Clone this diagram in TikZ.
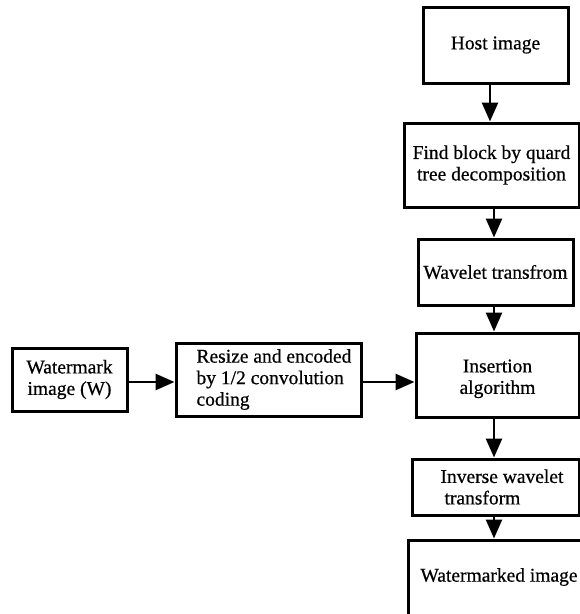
\documentclass[tikz,border=0pt]{standalone}
\usepackage{fontspec}
\setmainfont{Liberation Serif}[FakeBold=0.6]
\usetikzlibrary{arrows.meta}
\tikzset{
  lbl/.style={font=\fontsize{19.5}{21.5}\selectfont},
  box/.style={draw, line width=3pt, inner sep=0pt, align=center, lbl},
  arr/.style={line width=2.6pt, -{Triangle[length=19pt,width=16pt]}},
}
\begin{document}
\begin{tikzpicture}[x=1pt,y=-1pt]
\useasboundingbox (0,0) rectangle (580,614);
\clip (0,0) rectangle (580,614);
\node[box, minimum width=145pt, minimum height=76pt] (host) at (495.5,45) {Host image};
\node[box, minimum width=175pt, minimum height=84pt] (find) at (491.5,165) {Find block by quard\\tree decomposition};
\node[box, minimum width=155pt, minimum height=66pt] (wave) at (495.5,272) {Wavelet transfrom};
\node[box, minimum width=163pt, minimum height=84pt] (ins) at (497.5,375) {\\[-1pt]Insertion\\algorithm};
\node[box, minimum width=167pt, minimum height=56pt] (inv) at (495.5,487) {};
\node[lbl, align=left, anchor=west] (invt) at (437,487) {Inverse wavelet\\\hspace*{4pt}transform};
\node[box, minimum width=177pt, minimum height=80pt] (wm) at (496.5,580) {};
\node[lbl] (wmt) at (499,577) {Watermarked image};
\node[box, minimum width=115pt, minimum height=63pt] (water) at (69.5,379.5) {Watermark\\image (W)};
\node[box, minimum width=185pt, minimum height=73pt] (resize) at (268.5,379.5) {};
\node[lbl, align=left, anchor=west] (rt) at (193,379.5) {Resize and encoded\\by 1/2 convolution\\coding};
\coordinate (X1) at (490,0);
\coordinate (X) at (494,0);
\coordinate (Y) at (0,382);
\draw[arr] (host.south -| X1) -- (find.north -| X1);
\draw[arr] (find.south -| X) -- (wave.north -| X);
\draw[arr] (wave.south -| X) -- (ins.north -| X);
\draw[arr] (ins.south -| X) -- (inv.north -| X);
\draw[arr] (inv.south -| X) -- (wm.north -| X);
\draw[arr] (water.east |- Y) -- (resize.west |- Y);
\draw[arr] (resize.east |- Y) -- (ins.west |- Y);
\end{tikzpicture}
\end{document}
